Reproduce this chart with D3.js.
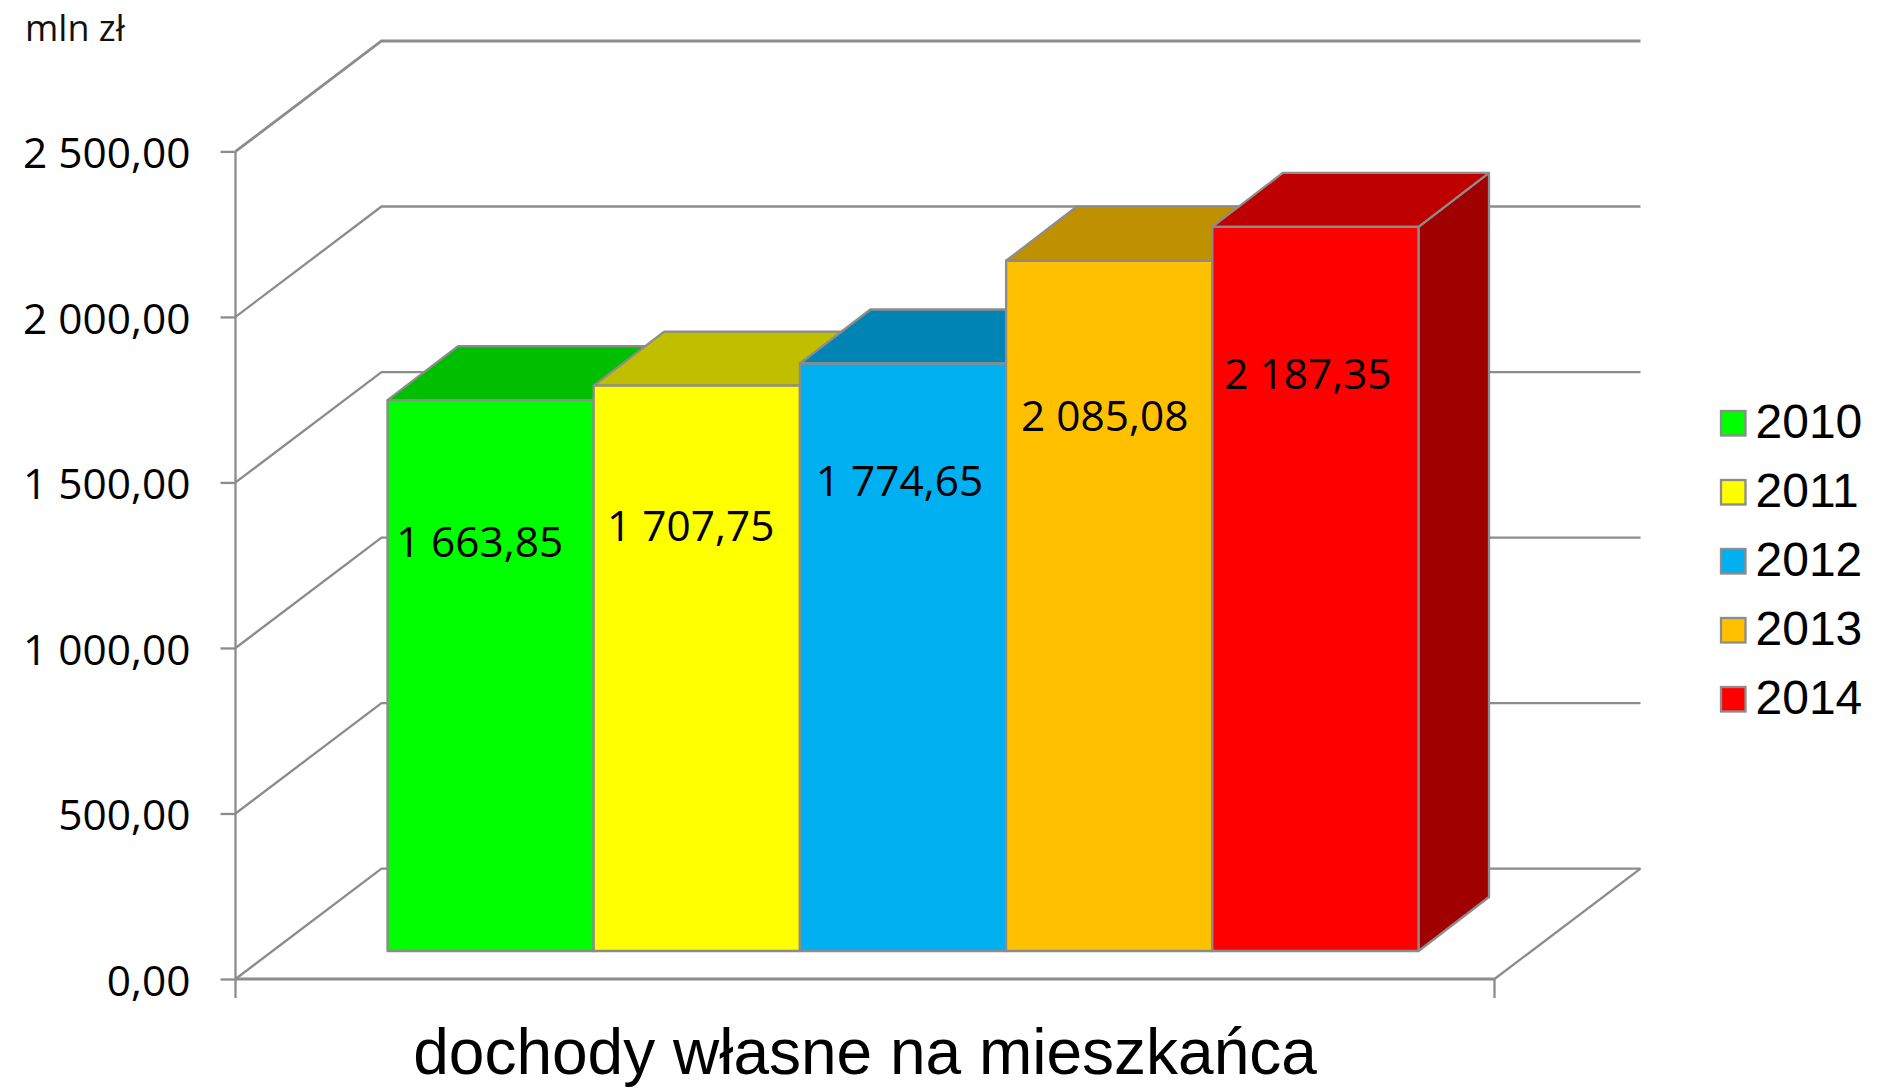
<!DOCTYPE html>
<html lang="pl"><head><meta charset="utf-8">
<script src="https://cdn.jsdelivr.net/npm/d3@7"></script>
<style>html,body{margin:0;background:#fff}svg{display:block}</style></head>
<body><svg id="c" width="1880" height="1088"></svg>
<script>
const years = ["2010","2011","2012","2013","2014"];
const values = [1663.85,1707.75,1774.65,2085.08,2187.35];
const tickValues = [0,500,1000,1500,2000,2500];
const frontColors = ["#00FF00","#FFFF00","#00B0F0","#FFC000","#FF0000"];
const topColors = ["#00BF00","#BFBF00","#0084B4","#BF9000","#BF0000"];
const sideColors = ["#009900","#999900","#006A90","#997300","#A00000"];
const categoryLabel = "dochody własne na mieszkańca";
const unitLabel = "mln zł";
const labelDrop = [157,155,132,170.5,162.5];
const labelShift = [-11,-6,-3.5,-4.5,-7.5];

const GRID="#8C8C8C", TICKF="'Open Sans'", LEGF="'Liberation Sans'";
const svg=d3.select("#c");
const y=d3.scaleLinear().domain([0,2500]).range([979,151.4]);
const x=d3.scaleBand().domain(years).range([387.5,1418.5]);
const fmt=d3.formatLocale({decimal:",",thousands:" ",grouping:[3],currency:["",""]}).format(",.2f");
const wallDx=146, wallDy=-110.4, barDx=70.5, barDy=-54, barLift=-28;
const left=235.5, front=1494.5;

// walls
const g=svg.append("g").attr("fill","none").attr("stroke",GRID);
tickValues.forEach(v=>{
  g.append("polyline").attr("stroke-width",v===2500?2.8:2.3)
   .attr("points",[[left,y(v)],[left+wallDx,y(v)+wallDy],[front+wallDx,y(v)+wallDy]].join(" "));
});
g.append("line").attr("x1",front).attr("y1",y(0)).attr("x2",front+wallDx).attr("y2",y(0)+wallDy).attr("stroke-width",2.3);
g.append("line").attr("x1",front).attr("y1",y(0)).attr("x2",front).attr("y2",y(0)+19).attr("stroke-width",2.3);
g.append("line").attr("x1",left).attr("y1",y(0)).attr("x2",front).attr("y2",y(0)).attr("stroke-width",2.8);
g.append("line").attr("x1",left).attr("y1",y(0)+19).attr("x2",left).attr("y2",y(2500)).attr("stroke-width",2.3);

// axis
const ax=svg.append("g").attr("transform",`translate(${left},0)`)
  .call(d3.axisLeft(y).tickValues(tickValues).tickFormat(fmt).tickSize(15).tickPadding(30));
ax.select(".domain").remove();
ax.selectAll(".tick line").attr("stroke",GRID).attr("stroke-width",2.3);
ax.selectAll(".tick text").attr("font-family",TICKF).attr("font-size",42.4).attr("fill","#000").attr("dy","0.38em");

// bars
const bars=svg.append("g").selectAll("g").data(years).join("g")
  .attr("stroke",GRID).attr("stroke-width",2.3).attr("stroke-linejoin","round");
bars.each(function(d,i){
  const s=d3.select(this), l=x(d), r=l+x.bandwidth(), t=y(values[i])+barLift, b=y(0)+barLift;
  s.append("polygon").attr("fill",sideColors[i])
    .attr("points",[[r,t],[r+barDx,t+barDy],[r+barDx,b+barDy],[r,b]].join(" "));
  s.append("polygon").attr("fill",topColors[i])
    .attr("points",[[l,t],[l+barDx,t+barDy],[r+barDx,t+barDy],[r,t]].join(" "));
  s.append("rect").attr("fill",frontColors[i]).attr("x",l).attr("y",t).attr("width",r-l).attr("height",b-t);
});
// labels
svg.append("g").selectAll("text").data(years).join("text")
  .attr("x",(d,i)=>x(d)+x.bandwidth()/2+labelShift[i])
  .attr("y",(d,i)=>y(values[i])+barLift+labelDrop[i])
  .attr("text-anchor","middle").attr("font-family",TICKF).attr("font-size",42.4).attr("fill","#000")
  .text((d,i)=>fmt(values[i]));

// legend
const lg=svg.append("g").selectAll("g").data(years).join("g")
  .attr("transform",(d,i)=>`translate(1721,${411+i*69})`);
lg.append("rect").attr("width",24.5).attr("height",24.5).attr("fill",(d,i)=>frontColors[i]).attr("stroke",GRID).attr("stroke-width",2.3);
lg.append("text").attr("x",34.5).attr("y",26.5).attr("font-family",LEGF).attr("font-size",48).attr("fill","#000").text(d=>d);

svg.append("text").attr("x",865).attr("y",1073.5).attr("text-anchor","middle").attr("font-family",LEGF).attr("font-size",64).attr("fill","#000").text(categoryLabel);
svg.append("text").attr("x",25).attr("y",41).attr("font-family",TICKF).attr("font-size",36).attr("fill","#111").text(unitLabel);
</script></body></html>
